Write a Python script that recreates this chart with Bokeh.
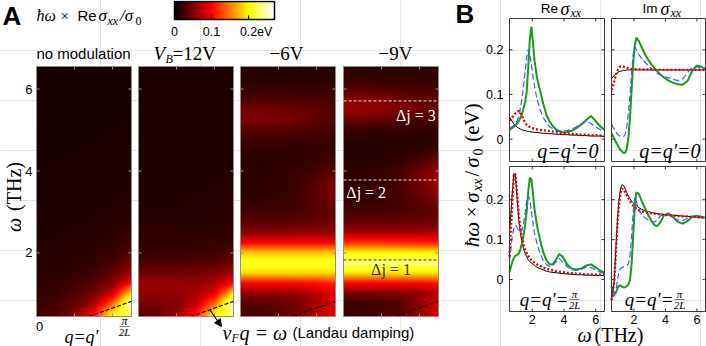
import numpy as np
from bokeh.plotting import figure
from bokeh.models import Range1d, Label, LinearColorMapper, Arrow, NormalHead
from bokeh.embed import file_html
from bokeh.resources import INLINE

SANS = "Liberation Sans"
SERIF = "Liberation Serif"
PAGE_W, PAGE_H = 706, 346

# ------------------------------------------------------------------ data
# colour bar of panel A (eV)
CBAR_LOW, CBAR_HIGH = 0.0, 0.27
CBAR_TICKS = [0, 0.1, 0.2]
CBAR_TICK_LABELS = ["0", "0.1", "0.2"]

# heat maps of panel A: hbar*omega*Re sigma_xx / sigma_0 (eV)
OMEGA_RANGE = (0.45, 6.55)          # THz
OMEGA_TICKS = [2, 4, 6]
Q_RANGE = (0.0, 1.0)                # q in units of pi/2L
Q_MINOR_TICKS = [0.4, 0.8]
Q_GRID = [0.0, 0.2, 0.4, 0.6, 0.8, 1.0]
OMEGA_GRID = [0.50, 0.75, 1.00, 1.25, 1.50, 1.75, 2.00, 2.25, 2.50, 2.75, 3.00, 3.25,
              3.50, 3.75, 4.00, 4.25, 4.50, 4.75, 5.00, 5.25, 5.50, 5.75, 6.00, 6.25, 6.50]

HEAT_NOMOD = [
    [0.024, 0.030, 0.050, 0.100, 0.200, 0.230],
    [0.021, 0.026, 0.038, 0.065, 0.140, 0.260],
    [0.019, 0.022, 0.030, 0.045, 0.080, 0.190],
    [0.017, 0.019, 0.024, 0.033, 0.052, 0.105],
    [0.016, 0.017, 0.020, 0.026, 0.037, 0.065],
    [0.015, 0.016, 0.018, 0.021, 0.028, 0.045],
    [0.014, 0.015, 0.016, 0.018, 0.022, 0.033],
    [0.013, 0.014, 0.015, 0.016, 0.019, 0.026],
    [0.012, 0.013, 0.014, 0.015, 0.017, 0.021],
    [0.012, 0.012, 0.013, 0.014, 0.015, 0.018],
    [0.011, 0.012, 0.012, 0.013, 0.014, 0.016],
    [0.011, 0.011, 0.012, 0.012, 0.013, 0.015],
    [0.010, 0.011, 0.011, 0.012, 0.012, 0.014],
    [0.010, 0.010, 0.011, 0.011, 0.012, 0.013],
    [0.010, 0.010, 0.010, 0.011, 0.011, 0.012],
    [0.009, 0.010, 0.010, 0.010, 0.011, 0.012],
    [0.009, 0.009, 0.010, 0.010, 0.010, 0.011],
    [0.009, 0.009, 0.009, 0.010, 0.010, 0.010],
    [0.008, 0.009, 0.009, 0.009, 0.010, 0.010],
    [0.008, 0.008, 0.009, 0.009, 0.009, 0.010],
    [0.008, 0.008, 0.008, 0.009, 0.009, 0.009],
    [0.008, 0.008, 0.008, 0.008, 0.009, 0.009],
    [0.007, 0.008, 0.008, 0.008, 0.008, 0.009],
    [0.007, 0.007, 0.008, 0.008, 0.008, 0.008],
    [0.007, 0.007, 0.007, 0.008, 0.008, 0.008],
]
HEAT_12V = [
    [0.038, 0.040, 0.058, 0.105, 0.200, 0.230],
    [0.045, 0.046, 0.052, 0.075, 0.145, 0.260],
    [0.056, 0.056, 0.057, 0.064, 0.090, 0.190],
    [0.060, 0.060, 0.060, 0.061, 0.068, 0.105],
    [0.045, 0.045, 0.045, 0.046, 0.050, 0.065],
    [0.031, 0.031, 0.031, 0.032, 0.035, 0.044],
    [0.022, 0.022, 0.022, 0.023, 0.026, 0.031],
    [0.019, 0.019, 0.019, 0.020, 0.021, 0.024],
    [0.017, 0.017, 0.017, 0.017, 0.018, 0.020],
    [0.015, 0.015, 0.015, 0.015, 0.016, 0.017],
    [0.014, 0.014, 0.014, 0.014, 0.015, 0.016],
    [0.013, 0.013, 0.013, 0.014, 0.014, 0.015],
    [0.013, 0.013, 0.013, 0.013, 0.014, 0.014],
    [0.013, 0.013, 0.013, 0.013, 0.013, 0.014],
    [0.012, 0.012, 0.012, 0.013, 0.013, 0.013],
    [0.012, 0.012, 0.012, 0.012, 0.013, 0.013],
    [0.012, 0.012, 0.012, 0.012, 0.012, 0.012],
    [0.012, 0.012, 0.012, 0.012, 0.012, 0.012],
    [0.011, 0.011, 0.012, 0.012, 0.012, 0.012],
    [0.011, 0.011, 0.011, 0.011, 0.011, 0.011],
    [0.011, 0.011, 0.011, 0.011, 0.011, 0.011],
    [0.011, 0.011, 0.011, 0.011, 0.011, 0.011],
    [0.010, 0.010, 0.010, 0.010, 0.010, 0.010],
    [0.010, 0.010, 0.010, 0.010, 0.010, 0.010],
    [0.010, 0.010, 0.010, 0.010, 0.010, 0.010],
]
HEAT_M6V = [
    [0.028, 0.029, 0.034, 0.045, 0.070, 0.090],
    [0.032, 0.033, 0.037, 0.045, 0.065, 0.095],
    [0.055, 0.055, 0.057, 0.060, 0.070, 0.095],
    [0.100, 0.100, 0.100, 0.102, 0.105, 0.115],
    [0.185, 0.185, 0.185, 0.185, 0.185, 0.185],
    [0.215, 0.215, 0.215, 0.215, 0.215, 0.215],
    [0.180, 0.180, 0.180, 0.180, 0.180, 0.180],
    [0.100, 0.100, 0.100, 0.100, 0.100, 0.100],
    [0.055, 0.055, 0.055, 0.056, 0.058, 0.060],
    [0.035, 0.035, 0.035, 0.037, 0.040, 0.044],
    [0.025, 0.025, 0.026, 0.029, 0.034, 0.040],
    [0.020, 0.020, 0.022, 0.026, 0.034, 0.045],
    [0.018, 0.018, 0.020, 0.025, 0.036, 0.050],
    [0.017, 0.017, 0.019, 0.024, 0.034, 0.048],
    [0.017, 0.017, 0.018, 0.021, 0.027, 0.036],
    [0.017, 0.017, 0.017, 0.019, 0.022, 0.027],
    [0.019, 0.019, 0.019, 0.019, 0.020, 0.021],
    [0.024, 0.024, 0.024, 0.023, 0.022, 0.021],
    [0.034, 0.034, 0.033, 0.031, 0.028, 0.026],
    [0.050, 0.049, 0.047, 0.043, 0.037, 0.032],
    [0.045, 0.045, 0.044, 0.041, 0.037, 0.033],
    [0.031, 0.031, 0.031, 0.030, 0.029, 0.028],
    [0.022, 0.022, 0.022, 0.022, 0.022, 0.022],
    [0.017, 0.017, 0.017, 0.017, 0.017, 0.017],
    [0.014, 0.014, 0.014, 0.014, 0.014, 0.014],
]
HEAT_M9V = [
    [0.020, 0.021, 0.026, 0.035, 0.060, 0.085],
    [0.024, 0.025, 0.028, 0.034, 0.055, 0.085],
    [0.045, 0.045, 0.046, 0.048, 0.055, 0.070],
    [0.100, 0.100, 0.100, 0.100, 0.100, 0.105],
    [0.190, 0.190, 0.190, 0.190, 0.190, 0.190],
    [0.235, 0.235, 0.235, 0.235, 0.235, 0.235],
    [0.200, 0.200, 0.200, 0.200, 0.200, 0.200],
    [0.120, 0.120, 0.120, 0.118, 0.115, 0.112],
    [0.065, 0.065, 0.065, 0.065, 0.065, 0.065],
    [0.040, 0.040, 0.040, 0.040, 0.041, 0.043],
    [0.028, 0.028, 0.028, 0.030, 0.033, 0.038],
    [0.022, 0.022, 0.023, 0.027, 0.035, 0.045],
    [0.020, 0.020, 0.022, 0.028, 0.042, 0.055],
    [0.019, 0.019, 0.022, 0.029, 0.046, 0.062],
    [0.018, 0.018, 0.020, 0.026, 0.042, 0.060],
    [0.016, 0.016, 0.017, 0.020, 0.030, 0.042],
    [0.014, 0.014, 0.014, 0.015, 0.018, 0.024],
    [0.015, 0.015, 0.015, 0.015, 0.015, 0.016],
    [0.022, 0.022, 0.021, 0.020, 0.019, 0.018],
    [0.040, 0.039, 0.037, 0.033, 0.029, 0.026],
    [0.062, 0.060, 0.056, 0.050, 0.044, 0.040],
    [0.055, 0.054, 0.050, 0.045, 0.040, 0.036],
    [0.034, 0.034, 0.032, 0.030, 0.028, 0.027],
    [0.023, 0.023, 0.022, 0.022, 0.022, 0.022],
    [0.018, 0.018, 0.018, 0.018, 0.018, 0.019],
]
HEATS = [HEAT_NOMOD, HEAT_12V, HEAT_M6V, HEAT_M9V]

LANDAU_SLOPE = 0.82                 # omega (THz) of v_F q = omega at q = pi/2L
DJ_LEVELS = [1.83, 3.78, 5.71]      # THz, -9V panel
DJ_TEXT = ["\u0394j = 1", "\u0394j = 2", "\u0394j = 3"]

# line panels of B
B_X_RANGE = (0.57, 6.55)
B_TOP_Y = (-0.05, 0.27)
B_BOT_Y = (-0.08, 0.283)
B_XTICKS = [2, 4, 6]
B_XTICK_LABELS = ["2", "4", "6"]
B_YTICKS = [0, 0.1, 0.2]
B_YTICK_LABELS = ["0", "0.1", "0.2"]

W = [0.57, 0.65, 0.75, 0.85, 0.95, 1.05, 1.15, 1.25, 1.35, 1.45, 1.55, 1.65,
     1.75, 1.85, 1.95, 2.05, 2.15, 2.3, 2.5, 2.7, 2.9, 3.1, 3.3, 3.5, 3.7,
     3.9, 4.2, 4.5, 4.8, 5.1, 5.4, 5.7, 6.0, 6.3, 6.55]

# Re sigma, q = q' = 0
re_q0_none = [0.051, 0.045, 0.039, 0.034, 0.030, 0.027, 0.025, 0.023, 0.021, 0.020, 0.019, 0.018,
              0.017, 0.017, 0.016, 0.016, 0.015, 0.015, 0.014, 0.013, 0.013, 0.012, 0.012, 0.011, 0.011,
              0.010, 0.010, 0.009, 0.009, 0.008, 0.008, 0.007, 0.007, 0.007, 0.006]
re_q0_12v = [0.042, 0.045, 0.049, 0.054, 0.058, 0.062, 0.063, 0.060, 0.052, 0.044, 0.037, 0.032,
             0.029, 0.027, 0.025, 0.024, 0.023, 0.022, 0.021, 0.020, 0.019, 0.018, 0.017, 0.016, 0.015,
             0.014, 0.013, 0.012, 0.011, 0.010, 0.010, 0.009, 0.009, 0.008, 0.008]
re_q0_m6v = [0.025, 0.026, 0.028, 0.031, 0.035, 0.041, 0.050, 0.068, 0.090, 0.118, 0.150, 0.183,
             0.201, 0.190, 0.165, 0.140, 0.118, 0.090, 0.066, 0.048, 0.036, 0.028, 0.023, 0.020, 0.018,
             0.018, 0.019, 0.022, 0.028, 0.035, 0.040, 0.035, 0.027, 0.021, 0.018]
re_q0_m9v = [0.021, 0.023, 0.025, 0.028, 0.031, 0.035, 0.040, 0.047, 0.056, 0.068, 0.082, 0.105,
             0.160, 0.225, 0.252, 0.215, 0.175, 0.138, 0.108, 0.078, 0.054, 0.039, 0.029, 0.022, 0.018,
             0.015, 0.016, 0.019, 0.025, 0.033, 0.043, 0.052, 0.040, 0.028, 0.021]
# Im sigma, q = q' = 0
im_q0_none = [0.135, 0.139, 0.143, 0.146, 0.149, 0.151, 0.152, 0.153, 0.154, 0.154, 0.155, 0.155,
              0.155, 0.155, 0.155, 0.155, 0.155, 0.155, 0.155, 0.155, 0.155, 0.155, 0.155, 0.155, 0.155,
              0.155, 0.155, 0.155, 0.155, 0.155, 0.155, 0.155, 0.155, 0.155, 0.155]
im_q0_12v = [0.110, 0.118, 0.130, 0.143, 0.153, 0.160, 0.163, 0.163, 0.162, 0.161, 0.160, 0.159,
             0.158, 0.157, 0.157, 0.157, 0.156, 0.156, 0.156, 0.156, 0.156, 0.156, 0.155, 0.155, 0.155,
             0.155, 0.155, 0.155, 0.155, 0.155, 0.155, 0.155, 0.155, 0.155, 0.155]
im_q0_m6v = [0.033, 0.028, 0.022, 0.016, 0.011, 0.008, 0.006, 0.006, 0.006, 0.012, 0.030, 0.060,
             0.100, 0.150, 0.190, 0.207, 0.200, 0.190, 0.180, 0.172, 0.165, 0.158, 0.152, 0.147, 0.143,
             0.140, 0.137, 0.134, 0.131, 0.135, 0.148, 0.160, 0.162, 0.158, 0.156]
im_q0_m9v = [0.013, 0.008, 0.001, -0.006, -0.013, -0.019, -0.024, -0.028, -0.031, -0.030, -0.020, 0.005,
             0.050, 0.110, 0.170, 0.210, 0.227, 0.220, 0.205, 0.190, 0.178, 0.168, 0.159, 0.151, 0.144,
             0.138, 0.131, 0.126, 0.123, 0.122, 0.130, 0.152, 0.165, 0.162, 0.157]
# Re sigma, q = q' = pi/2L
re_qp_none = [0.120, 0.160, 0.220, 0.265, 0.260, 0.200, 0.150, 0.118, 0.095, 0.078, 0.066, 0.057,
              0.050, 0.045, 0.041, 0.038, 0.035, 0.031, 0.027, 0.024, 0.021, 0.019, 0.018, 0.017, 0.016,
              0.015, 0.014, 0.013, 0.012, 0.012, 0.011, 0.011, 0.010, 0.010, 0.010]
re_qp_12v = [0.057, 0.120, 0.200, 0.266, 0.262, 0.215, 0.165, 0.130, 0.105, 0.088, 0.075, 0.066,
             0.059, 0.053, 0.049, 0.045, 0.042, 0.038, 0.034, 0.030, 0.027, 0.025, 0.023, 0.021, 0.020,
             0.019, 0.017, 0.016, 0.015, 0.014, 0.013, 0.013, 0.012, 0.012, 0.011]
re_qp_m6v = [0.048, 0.075, 0.110, 0.130, 0.136, 0.130, 0.120, 0.118, 0.125, 0.140, 0.165, 0.195,
             0.210, 0.200, 0.170, 0.140, 0.115, 0.090, 0.065, 0.047, 0.037, 0.033, 0.035, 0.044, 0.053,
             0.045, 0.032, 0.024, 0.023, 0.026, 0.031, 0.030, 0.024, 0.018, 0.015]
re_qp_m9v = [0.019, 0.030, 0.045, 0.055, 0.060, 0.062, 0.065, 0.075, 0.090, 0.110, 0.135, 0.170,
             0.220, 0.255, 0.250, 0.215, 0.175, 0.135, 0.098, 0.068, 0.048, 0.038, 0.038, 0.050, 0.064,
             0.058, 0.038, 0.027, 0.025, 0.028, 0.035, 0.038, 0.030, 0.022, 0.017]
# Im sigma, q = q' = pi/2L
im_qp_none = [-0.050, -0.035, 0.000, 0.080, 0.150, 0.200, 0.228, 0.238, 0.235, 0.226, 0.217, 0.209,
              0.202, 0.196, 0.192, 0.188, 0.185, 0.180, 0.176, 0.172, 0.170, 0.168, 0.166, 0.165, 0.164,
              0.163, 0.162, 0.161, 0.160, 0.159, 0.158, 0.157, 0.156, 0.155, 0.155]
im_qp_12v = [-0.052, -0.040, 0.000, 0.070, 0.140, 0.190, 0.218, 0.228, 0.226, 0.218, 0.210, 0.203,
             0.196, 0.190, 0.185, 0.181, 0.178, 0.174, 0.171, 0.169, 0.167, 0.166, 0.165, 0.164, 0.163,
             0.162, 0.161, 0.160, 0.159, 0.158, 0.158, 0.157, 0.156, 0.155, 0.155]
im_qp_m6v = [-0.022, -0.035, -0.043, -0.030, 0.000, 0.020, 0.028, 0.030, 0.032, 0.033, 0.035, 0.040,
             0.060, 0.110, 0.170, 0.205, 0.195, 0.175, 0.162, 0.155, 0.149, 0.145, 0.144, 0.150, 0.160,
             0.165, 0.162, 0.155, 0.149, 0.148, 0.153, 0.158, 0.158, 0.156, 0.155]
im_qp_m9v = [-0.017, -0.030, -0.035, -0.033, -0.022, -0.015, -0.015, -0.018, -0.020, -0.019, -0.016, -0.012,
             0.000, 0.040, 0.110, 0.180, 0.218, 0.215, 0.196, 0.178, 0.162, 0.148, 0.136, 0.134, 0.145,
             0.160, 0.166, 0.155, 0.144, 0.140, 0.146, 0.157, 0.160, 0.157, 0.155]

# ------------------------------------------------------------------ styles
SERIES_ORDER = ["none", "m9v", "m6v", "12v"]
SERIES_STYLE = {
    "none": dict(line_color="black", line_width=1.0),
    "m9v": dict(line_color="#1c9a1c", line_width=2.0),
    "m6v": dict(line_color="#3d5bff", line_width=1.2, line_dash="6 3"),
    "12v": dict(line_color="#e00000", line_width=2.3, line_dash="2 2"),
}


def hot_palette(n=256):
    n1 = int(3 * n / 8)
    n2 = n1
    n3 = n - n1 - n2
    cols = []
    for i in range(n):
        r = min(1.0, (i + 1) / n1)
        g = 0.0 if i < n1 else min(1.0, (i - n1 + 1) / n2)
        b = 0.0 if i < n1 + n2 else (i - n1 - n2 + 1) / n3
        cols.append("#%02x%02x%02x" % (round(r * 255), round(g * 255), round(b * 255)))
    return cols


CMAP = LinearColorMapper(palette=hot_palette(), low=CBAR_LOW, high=CBAR_HIGH)

# one page-sized canvas; every panel gets its own pair of ranges (Bokeh scales)
p = figure(width=PAGE_W, height=PAGE_H, x_range=Range1d(0, PAGE_W), y_range=Range1d(PAGE_H, 0),
           toolbar_location=None, output_backend="svg",
           min_border_left=0, min_border_right=0, min_border_top=0, min_border_bottom=0,
           x_axis_location=None, y_axis_location=None)
p.outline_line_color = None
p.title.visible = False
p.background_fill_color = "white"


class Panel:
    def __init__(self, name, box, xr, yr):
        l, r, t, b = box
        self.box, self.xr, self.yr = box, xr, yr
        self.kx = (xr[1] - xr[0]) / (r - l)
        self.ky = (yr[1] - yr[0]) / (b - t)
        p.extra_x_ranges[name] = Range1d(xr[0] - l * self.kx, xr[0] + (PAGE_W - l) * self.kx)
        p.extra_y_ranges[name] = Range1d(yr[0] - (PAGE_H - b) * self.ky, yr[1] + t * self.ky)
        self.kw = dict(x_range_name=name, y_range_name=name)

    def X(self, px):
        return self.xr[0] + (px - self.box[0]) * self.kx

    def Y(self, py):
        return self.yr[0] + (self.box[3] - py) * self.ky


def text(x, y, t, size, font=SERIF, style="normal", color="black", align="left",
         angle=0.0, baseline="middle", panel=None):
    kw = panel.kw if panel is not None else {}
    p.add_layout(Label(x=x, y=y, text=t, text_font=font, text_font_size=f"{size}px",
                       text_font_style=style, text_color=color, text_align=align,
                       text_baseline=baseline, angle=angle, **kw))


def frame_ticks(pn, xticks, yticks, color, length=3, width=1):
    x0, x1 = pn.xr
    y0, y1 = pn.yr
    lx, ly = length * pn.kx, length * pn.ky
    for xt in xticks:
        p.segment(x0=[xt, xt], y0=[y0, y1], x1=[xt, xt], y1=[y0 + ly, y1 - ly],
                  line_color=color, line_width=width, **pn.kw)
    for yt in yticks:
        p.segment(x0=[x0, x1], y0=[yt, yt], x1=[x0 + lx, x1 - lx], y1=[yt, yt],
                  line_color=color, line_width=width, **pn.kw)


def frame_box(pn, color, width=1.0):
    p.quad(left=[pn.xr[0]], right=[pn.xr[1]], bottom=[pn.yr[0]], top=[pn.yr[1]],
           fill_color=None, line_color=color, line_width=width, **pn.kw)


# ------------------------------------------------------------------ header: title + colour bar
cb = Panel("cbar", (174, 274, 1, 19), (CBAR_LOW, CBAR_HIGH), (0, 1))
p.image(image=[np.array([np.linspace(CBAR_LOW, CBAR_HIGH, 256)])], x=CBAR_LOW, y=0,
        dw=CBAR_HIGH - CBAR_LOW, dh=1, color_mapper=CMAP, **cb.kw)
frame_box(cb, "black", 1.5)
for t_, lab in zip(CBAR_TICKS, CBAR_TICK_LABELS):
    p.segment(x0=[t_], y0=[0], x1=[t_], y1=[4 * cb.ky], line_color="black", line_width=1.2, **cb.kw)
    text(t_, cb.Y(31), lab, 12.5, font=SANS, align="center", panel=cb)
text(256.5, 31, "eV", 12.5, font=SANS)

text(2, 15, "A", 26, font=SANS, style="bold")
text(36, 15, "\u0127\u03c9", 16, style="italic")
text(60, 15, "\u00d7", 15)
text(77, 15, "Re", 15, font=SANS)
text(98, 15, "\u03c3", 17, style="italic")
text(107, 20, "xx", 12, style="italic")
text(119.5, 15, "/\u03c3", 17, style="italic")
text(135, 20, "0", 12)
text(455, 13, "B", 26, font=SANS, style="bold")

# ------------------------------------------------------------------ heat maps (panel A)
HEAT_BOXES = [(36, 131, 66, 316), (138, 233, 66, 316), (240, 335, 66, 316), (343, 438, 66, 316)]


def upsample(grid, nrows, ncols):
    g = np.array(grid)
    ys = np.linspace(OMEGA_RANGE[0], OMEGA_RANGE[1], nrows)
    xs = np.linspace(Q_GRID[0], Q_GRID[-1], ncols)
    cols = np.array([np.interp(ys, OMEGA_GRID, g[:, j]) for j in range(g.shape[1])])
    return np.array([np.interp(xs, Q_GRID, cols[:, i]) for i in range(nrows)])


hps = []
for k, (grid, box) in enumerate(zip(HEATS, HEAT_BOXES)):
    hp = Panel(f"heat{k}", box, Q_RANGE, OMEGA_RANGE)
    hps.append(hp)
    p.image(image=[upsample(grid, 250, 95)], x=Q_RANGE[0], y=OMEGA_RANGE[0],
            dw=Q_RANGE[1] - Q_RANGE[0], dh=OMEGA_RANGE[1] - OMEGA_RANGE[0],
            color_mapper=CMAP, **hp.kw)
    q0 = OMEGA_RANGE[0] / LANDAU_SLOPE
    p.line(x=[q0, Q_RANGE[1]], y=[OMEGA_RANGE[0], LANDAU_SLOPE * Q_RANGE[1]], line_color="black",
           line_width=1.2, line_dash="4 2", **hp.kw)
    frame_ticks(hp, Q_MINOR_TICKS, OMEGA_TICKS, "#8f8f8f", length=3)
    frame_box(hp, "#8c8c8c", 1.0)

hp0, hp1, hp3 = hps[0], hps[1], hps[3]
for yt in OMEGA_TICKS:
    text(hp0.X(32), yt, str(yt), 13, font=SANS, align="right", panel=hp0)

dj_line_colors = ["#3a3a3a", "#e6e6e6", "#e6e6e6"]
dj_text_colors = ["#2a2a2a", "white", "white"]
dj_pos = [(0.5, -0.24, "center"), (0.03, -0.30, "left"), (0.97, -0.35, "right")]
for lvl, lc, tc, (qx, dy, al), txt in zip(DJ_LEVELS, dj_line_colors, dj_text_colors, dj_pos, DJ_TEXT):
    p.line(x=list(Q_RANGE), y=[lvl, lvl], line_color=lc, line_width=1, line_dash="3 2", **hp3.kw)
    text(qx, lvl + dy, txt, 16, color=tc, align=al, panel=hp3)

text(83, 53, "no modulation", 15, font=SANS, align="center")
text(153, 53, "V", 19, style="italic")
text(165, 58, "B", 12, style="italic")
text(172, 53, "=12V", 19)
text(286, 53, "\u22126V", 19, align="center")
text(395, 53, "\u22129V", 19, align="center")
text(13.5, 224.5, "\u03c9", 20, style="italic", align="center", angle=np.pi / 2)
text(13.5, 186, "(THz)", 20, align="center", angle=np.pi / 2)
text(39, 326, "0", 13, font=SANS, align="center")
text(124, 320, "\u03c0", 12, style="italic", align="center")
text(124, 325, "\u2014", 10, align="center")
text(124, 331, "2L", 11, style="italic", align="center")
text(81, 336, "q=q\u2032", 18, style="italic", align="center")
text(222, 332, "v", 20, style="italic")
text(231, 337, "F", 12, style="italic")
text(239, 332, "q = \u03c9", 20, style="italic")
text(292, 332, "(Landau damping)", 15, font=SANS)
Q_ARROW = 0.75
p.add_layout(Arrow(end=NormalHead(size=7, fill_color="black", line_color="black"),
                   x_start=Q_ARROW, y_start=LANDAU_SLOPE * Q_ARROW,
                   x_end=hp1.X(221), y_end=hp1.Y(326), line_width=1.2, line_color="black",
                   **hp1.kw))

# ------------------------------------------------------------------ line panels (panel B)
B_PANELS = [
    ((509, 604, 18, 161), B_TOP_Y, [re_q0_none, re_q0_m9v, re_q0_m6v, re_q0_12v]),
    ((611, 705, 18, 161), B_TOP_Y, [im_q0_none, im_q0_m9v, im_q0_m6v, im_q0_12v]),
    ((509, 604, 166, 311), B_BOT_Y, [re_qp_none, re_qp_m9v, re_qp_m6v, re_qp_12v]),
    ((611, 705, 166, 311), B_BOT_Y, [im_qp_none, im_qp_m9v, im_qp_m6v, im_qp_12v]),
]
bps = []
for i, (box, yr, series) in enumerate(B_PANELS):
    bp = Panel(f"b{i}", box, B_X_RANGE, yr)
    bps.append(bp)
    for key, ys in zip(SERIES_ORDER, series):
        p.line(x=W, y=ys, **SERIES_STYLE[key], **bp.kw)
    frame_ticks(bp, B_XTICKS, B_YTICKS, "#3a3a3a", length=3)
    frame_box(bp, "#3a3a3a", 1.0)
    if i in (0, 2):
        for yt, lab in zip(B_YTICKS, B_YTICK_LABELS):
            text(bp.X(503), yt, lab, 12.5, font=SANS, align="right", panel=bp)
    if i in (2, 3):
        for xt, lab in zip(B_XTICKS, B_XTICK_LABELS):
            text(xt, bp.Y(319), lab, 12.5, font=SANS, align="center", panel=bp)

text(557.5, 8, "Re", 13.5, font=SANS, align="right")
text(560, 8, "\u03c3", 18, style="italic")
text(570, 12, "xx", 12, style="italic")
text(657, 8, "Im", 13.5, font=SANS, align="right")
text(660, 8, "\u03c3", 18, style="italic")
text(670, 12, "xx", 12, style="italic")
text(598, 150, "q=q\u2032=0", 20, style="italic", align="right")
text(700, 150, "q=q\u2032=0", 20, style="italic", align="right")
for fr in (574, 679):
    text(fr - 6, 299, "q=q\u2032=", 19, style="italic", align="right")
    text(fr, 293, "\u03c0", 11, style="italic", align="center")
    text(fr, 298, "\u2014", 10, align="center")
    text(fr, 304, "2L", 11, style="italic", align="center")
text(577, 334, "\u03c9", 20, style="italic")
text(594, 334, "(THz)", 20)
# y label of panel B (rotated, read bottom to top)
text(471, 234, "\u0127\u03c9", 21, style="italic", align="center", angle=np.pi / 2)
text(471, 211.5, "\u00d7", 19, align="center", angle=np.pi / 2)
text(471, 197, "\u03c3", 21, style="italic", align="center", angle=np.pi / 2)
text(477, 184.5, "xx", 14, style="italic", align="center", angle=np.pi / 2)
text(471, 173, "/", 21, align="center", angle=np.pi / 2)
text(471, 162, "\u03c3", 21, style="italic", align="center", angle=np.pi / 2)
text(477, 151.5, "0", 14, align="center", angle=np.pi / 2)
text(471, 122, "(eV)", 21, align="center", angle=np.pi / 2)

open("out.html", "w").write(file_html(p, INLINE))
